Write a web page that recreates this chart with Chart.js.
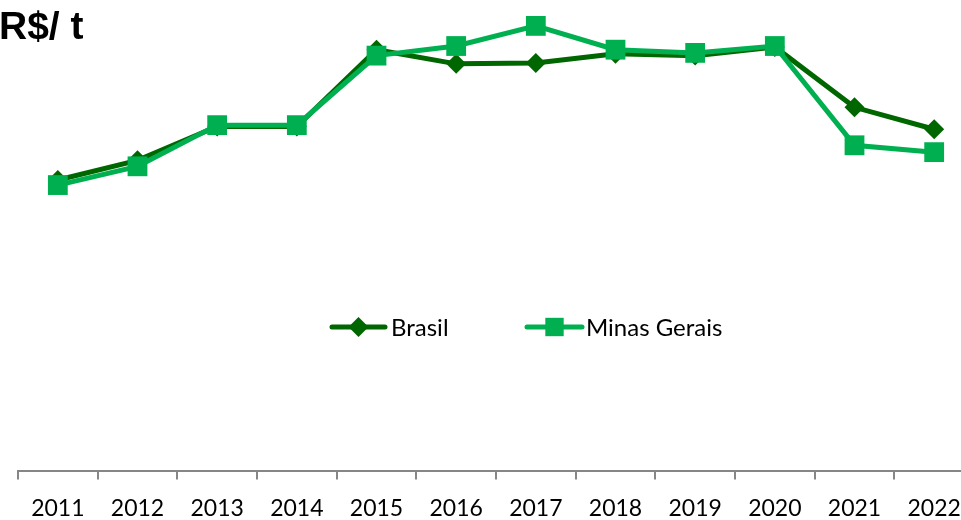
<!DOCTYPE html>
<html>
<head>
<meta charset="utf-8">
<script src="https://cdn.jsdelivr.net/npm/chart.js@4"></script>
<style>
  html, body { margin: 0; padding: 0; background: #fff; overflow: hidden; }
  #wrap { position: relative; width: 961px; height: 520px; overflow: hidden; }
  #unit { position: absolute; left: -1px; top: 4px; font: bold 39px "Liberation Sans", Arial, sans-serif; color: #000; white-space: nowrap; }
  canvas { position: absolute; left: 0; top: 0; }
</style>
</head>
<body>
<div id="wrap">
  <canvas id="c" width="988" height="538"></canvas>
  <div id="unit">R$/ t</div>
</div>
<script>
// Preço médio (R$/t) por ano
const years = ['2011','2012','2013','2014','2015','2016','2017','2018','2019','2020','2021','2022'];
const brasil = [637, 680, 754, 754, 922, 891, 893, 913, 909, 928, 796, 748];
const minasGerais = [626, 667, 757, 757, 909, 930, 974, 922, 915, 930, 713, 698];

const DARK = '#006600';
const LIGHT = '#00B050';
const LABEL_FONT = '"Lato", "Open Sans", sans-serif';

// Legend drawn inside the plot, centred below the lines
const midLegend = {
  id: 'midLegend',
  afterDraw(chart) {
    const ctx = chart.ctx;
    const y = 327;
    const items = [
      { x0: 332, x1: 385, tx: 391, color: DARK, style: 'rectRot', r: 10, text: 'Brasil' },
      { x0: 527, x1: 582, tx: 586, color: LIGHT, style: 'rect', r: 13, text: 'Minas Gerais' }
    ];
    ctx.save();
    for (const it of items) {
      ctx.strokeStyle = it.color;
      ctx.lineWidth = 5;
      ctx.lineCap = 'round';
      ctx.beginPath();
      ctx.moveTo(it.x0, y);
      ctx.lineTo(it.x1, y);
      ctx.stroke();
      ctx.fillStyle = it.color;
      Chart.helpers.drawPoint(ctx, { pointStyle: it.style, radius: it.r, borderWidth: 0 }, (it.x0 + it.x1) / 2, y);
      ctx.fillStyle = '#000';
      ctx.font = '24px ' + LABEL_FONT;
      ctx.textBaseline = 'middle';
      ctx.textAlign = 'left';
      ctx.fillText(it.text, it.tx, y + 1);
    }
    ctx.restore();
  }
};

new Chart(document.getElementById('c'), {
  type: 'line',
  data: {
    labels: years,
    datasets: [
      {
        label: 'Brasil',
        data: brasil,
        borderColor: DARK,
        backgroundColor: DARK,
        borderWidth: 5,
        pointStyle: 'rectRot',
        pointRadius: 10,
        pointBorderWidth: 0,
        pointBackgroundColor: DARK,
        order: 2,
        clip: false
      },
      {
        label: 'Minas Gerais',
        data: minasGerais,
        borderColor: LIGHT,
        backgroundColor: LIGHT,
        borderWidth: 5,
        pointStyle: 'rect',
        pointRadius: 14,
        pointBorderWidth: 0,
        pointBackgroundColor: LIGHT,
        order: 1,
        clip: false
      }
    ]
  },
  options: {
    responsive: false,
    animation: false,
    layout: { padding: { left: 18, right: 7, top: 11, bottom: 1 } },
    plugins: { legend: { display: false }, tooltip: { enabled: false }, title: { display: false } },
    scales: {
      x: {
        offset: true,
        border: { display: true, color: '#868686', width: 2 },
        grid: { offset: true, drawOnChartArea: false, drawTicks: true, tickLength: 8, color: '#868686', lineWidth: 2 },
        ticks: { color: '#000', font: { family: LABEL_FONT, size: 23 }, padding: 15, maxRotation: 0, autoSkip: false }
      },
      y: {
        display: false,
        min: 0,
        max: 1000
      }
    }
  },
  plugins: [midLegend]
});
</script>
</body>
</html>
